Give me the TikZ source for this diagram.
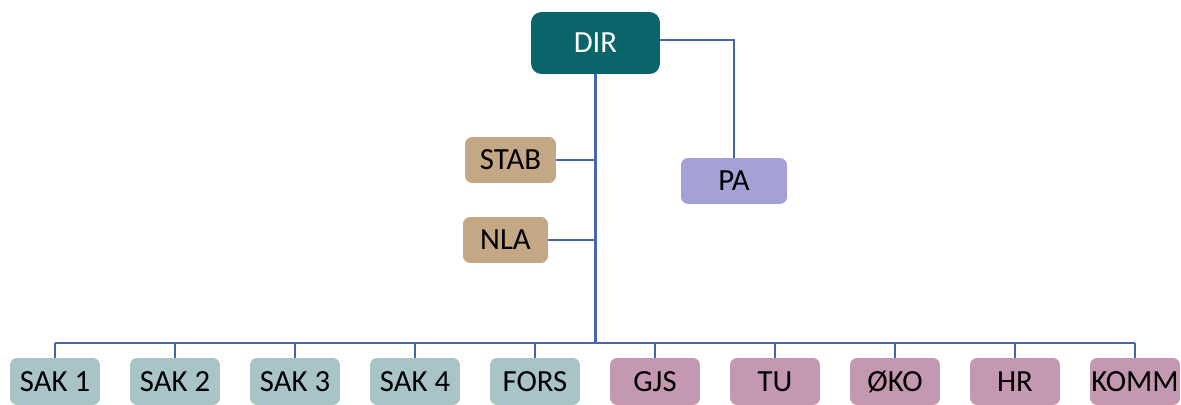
\documentclass[tikz,border=0pt]{standalone}
\usepackage{fontspec}
\setmainfont{Carlito}
\usetikzlibrary{positioning}
\definecolor{dirteal}{HTML}{09656A}
\definecolor{stabtan}{HTML}{C4A784}
\definecolor{palilac}{HTML}{A3A1D8}
\definecolor{saktone}{HTML}{A9C4C6}
\definecolor{staffpink}{HTML}{C498B0}
\definecolor{linkblue}{HTML}{4466AD}

\begin{document}
\begin{tikzpicture}[
        x = 0.02cm,
        y = -0.02cm,
        box/.style = {rounded corners=4pt, inner sep=0pt, minimum height=0.92cm,
                      font=\fontsize{17.5}{20}\selectfont},
        link/.style = {draw=linkblue, line width=1.2pt}
        ]
        \useasboundingbox (0, 0) rectangle (1181, 405);
        \node[box, fill=dirteal, text=white, rounded corners=6pt,
              minimum width=2.58cm, minimum height=1.24cm] (dir) at (595.5, 43) {DIR};
        \node[box, fill=stabtan, minimum width=1.82cm] (stab) at (510.5, 160) {STAB};
        \node[box, fill=stabtan, minimum width=1.7cm] (nla) at (505.5, 240) {NLA};
        \node[box, fill=palilac, minimum width=2.12cm] (pa) at (734, 181) {PA};
        \coordinate (bus) at (596, 343);
        \foreach \name/\txt/\x/\col in {sak1/SAK 1/55/saktone, sak2/SAK 2/175/saktone,
                sak3/SAK 3/295/saktone, sak4/SAK 4/415/saktone, fors/FORS/535/saktone,
                gjs/GJS/655/staffpink, tu/TU/775/staffpink, oko/ØKO/895/staffpink,
                hr/HR/1015/staffpink, komm/KOMM/1135/staffpink}
            \node[box, fill=\col, minimum width=1.8cm, minimum height=0.94cm] (\name) at (\x, 381.5) {\txt};
        \draw[link] (dir.south) -- (dir.south |- bus);
        \draw[link] (stab.east) -- (stab.east -| dir.south);
        \draw[link] (nla.east) -- (nla.east -| dir.south);
        \draw[link] ([yshift=1.5pt]dir.east) -| (pa.north);
        \draw[link] (sak1.north |- bus) -- (komm.north |- bus);
        \foreach \name in {sak1, sak2, sak3, sak4, fors, gjs, tu, oko, hr, komm}
            \draw[link] (\name.north) -- (\name.north |- bus);
    \end{tikzpicture}
\end{document}
